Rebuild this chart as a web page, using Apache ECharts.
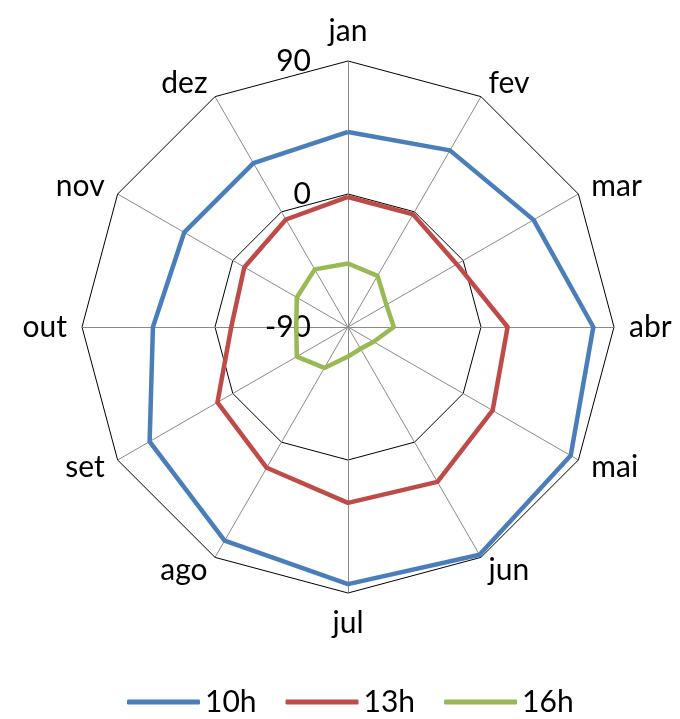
<!DOCTYPE html>
<html>
<head>
<meta charset="utf-8">
<script src="https://cdn.jsdelivr.net/npm/echarts@6/dist/echarts.min.js"></script>
<style>
  html, body { margin: 0; padding: 0; background: #fff; }
  #chart { width: 680px; height: 719px; }
</style>
</head>
<body>
<div id="chart"></div>
<script>
const months = ['jan', 'fev', 'mar', 'abr', 'mai', 'jun', 'jul', 'ago', 'set', 'out', 'nov', 'dez']
const seriesNames = ['10h', '13h', '16h']
const h10 = [42, 48, 55, 76, 84, 88, 84, 77, 65, 42, 38, 38]
const h13 = [-2, -2, -5, 18, 23, 31, 29, 20, 12, -11, -9, -6]
const h16 = [-47, -50, -60, -59, -70, -73, -70, -58, -50, -55, -50, -45]
const axisMin = -90
const axisMax = 90

const colors = ['#4a7ebb', '#be4b48', '#98b954']
const font = 'Lato, "Open Sans", sans-serif'

// radar goes counter-clockwise, Excel goes clockwise: reorder jan, dez, nov ... fev
const order = months.map((m, i) => (months.length - i) % months.length)
const reorder = arr => order.map(i => arr[i])

const indicator = reorder(months).map((name, i) => {
  const ind = { name: name, min: axisMin, max: axisMax }
  if (i === 0) {
    ind.axisLabel = { show: true }
  }
  return ind
})

const chart = echarts.init(document.getElementById('chart'))

const option = {
  animation: false,
  backgroundColor: '#fff',
  legend: {
    data: seriesNames,
    left: 122,
    top: 682,
    icon: 'roundRect',
    itemWidth: 73,
    itemHeight: 5,
    itemGap: 29,
    textStyle: {
      fontFamily: font,
      fontSize: 30,
      color: '#000'
    }
  },
  radar: {
    center: [348, 327],
    radius: 266,
    startAngle: 90,
    shape: 'polygon',
    splitNumber: 2,
    indicator: indicator,
    axisName: {
      color: '#000',
      fontFamily: font,
      fontSize: 30
    },
    nameGap: 15,
    axisLine: {
      lineStyle: { color: '#8a8a8a', width: 1 }
    },
    axisTick: { show: false },
    axisLabel: {
      show: false,
      margin: 37,
      color: '#000',
      fontFamily: font,
      fontSize: 30
    },
    splitLine: {
      lineStyle: { color: '#000', width: 1 }
    },
    splitArea: { show: false }
  },
  series: [
    {
      type: 'radar',
      symbol: 'none',
      data: [h10, h13, h16].map((vals, i) => ({
        name: seriesNames[i],
        value: reorder(vals),
        lineStyle: { color: colors[i], width: 4.5 },
        itemStyle: { color: colors[i] }
      }))
    }
  ]
}

chart.setOption(option)
</script>
</body>
</html>
